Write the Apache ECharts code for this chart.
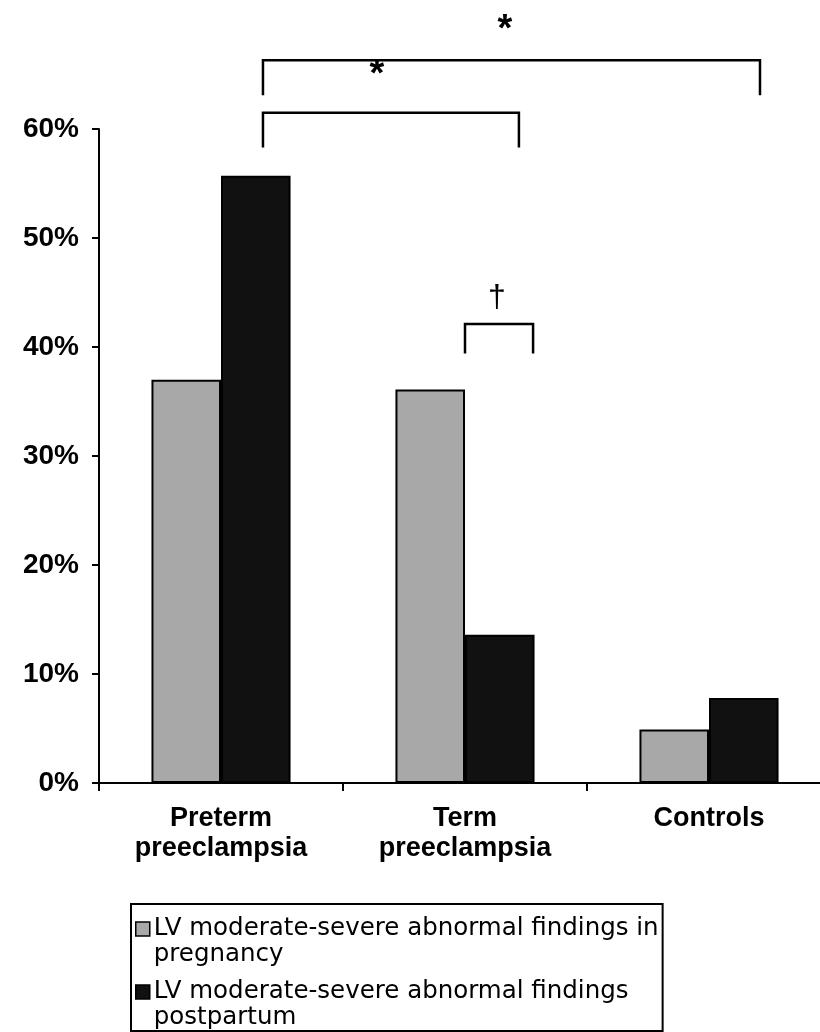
<!DOCTYPE html>
<html>
<head>
<meta charset="utf-8">
<script src="https://cdn.jsdelivr.net/npm/echarts@6/dist/echarts.min.js"></script>
<style>
html,body{margin:0;padding:0;background:#fff;overflow:hidden;width:820px;height:1032px;}
#chart{width:840px;height:1032px;}
</style>
</head>
<body>
<div id="chart"></div>
<script>
// ---- data ----
var categories = ['Preterm\npreeclampsia', 'Term\npreeclampsia', 'Controls'];
var seriesNames = ['LV moderate-severe abnormal findings in\npregnancy', 'LV moderate-severe abnormal findings\npostpartum'];
var pregnancyValues = [37.0, 36.1, 4.9];
var postpartumValues = [55.7, 13.6, 7.8];
var yTicks = [0, 10, 20, 30, 40, 50, 60];

var BOLDFONT = '"Liberation Sans", Arial, sans-serif';
var LEGFONT = '"DejaVu Sans", Verdana, sans-serif';
var chart = echarts.init(document.getElementById('chart'), null, {renderer: 'canvas'});

var barBorder = {borderColor: '#000', borderWidth: 2};

var option = {
  animation: false,
  backgroundColor: '#fff',
  grid: {left: 99, top: 129, right: 9, height: 654, containLabel: false},
  xAxis: {
    type: 'category',
    data: categories,
    axisLine: {lineStyle: {color: '#000', width: 2}},
    axisTick: {show: true, length: 8, lineStyle: {color: '#000', width: 2}, alignWithLabel: false},
    axisLabel: {color: '#000', fontFamily: BOLDFONT, fontWeight: 'bold', fontSize: 27, lineHeight: 30, margin: 21, interval: 0}
  },
  yAxis: {
    type: 'value',
    min: yTicks[0], max: yTicks[yTicks.length - 1], interval: 10,
    axisLine: {show: true, lineStyle: {color: '#000', width: 2}},
    axisTick: {show: true, length: 7, lineStyle: {color: '#000', width: 2}},
    splitLine: {show: false},
    axisLabel: {color: '#000', fontFamily: BOLDFONT, fontWeight: 'bold', fontSize: 28, margin: 20, formatter: '{value}%'}
  },
  legend: {
    orient: 'vertical',
    left: 131, top: 904,
    padding: [12, 4, 0, 4],
    borderColor: '#000', borderWidth: 2,
    itemWidth: 14, itemHeight: 40, itemGap: 11,
    icon: 'path://M0,0L14,0L14,14L0,14ZM0,40L0,40',
    itemStyle: {borderColor: '#000', borderWidth: 1.5},
    textStyle: {color: '#000', fontFamily: LEGFONT, fontSize: 24.5, lineHeight: 26, padding: [0, 0, 0, -1]},
    data: seriesNames,
    selectedMode: false
  },
  series: [
    {name: seriesNames[0], type: 'bar', data: pregnancyValues, barGap: '0%', barCategoryGap: '43%',
     itemStyle: Object.assign({color: '#a8a8a8'}, barBorder)},
    {name: seriesNames[1], type: 'bar', data: postpartumValues, barGap: '0%', barCategoryGap: '43%',
     itemStyle: Object.assign({color: '#111111'}, barBorder)}
  ]
};
chart.setOption(option);

// ---- significance annotations (in category units / percent values) ----
var brackets = [
  {x1: 0.172, x2: 2.209, top: 66.3, bottom: 63.1, mark: '*', mx: 1.164, my: 69.8},
  {x1: 0.172, x2: 1.221, top: 61.5, bottom: 58.3, mark: '*', mx: 0.639, my: 65.6},
  {x1: 1.0, x2: 1.279, top: 42.1, bottom: 39.4, mark: '\u2020', mx: 1.131, my: 44.5}
];
var c0 = chart.convertToPixel({xAxisIndex: 0}, 0);
var c1 = chart.convertToPixel({xAxisIndex: 0}, 1);
var band = c1 - c0;
function px(u) { return c0 + u * band; }
function py(v) { return chart.convertToPixel({yAxisIndex: 0}, v); }
var g = [];
brackets.forEach(function (b) {
  g.push({type: 'polyline', shape: {points: [[px(b.x1), py(b.bottom)], [px(b.x1), py(b.top)], [px(b.x2), py(b.top)], [px(b.x2), py(b.bottom)]]},
          style: {stroke: '#000', lineWidth: 2.5, fill: null}});
  var isStar = b.mark === '*';
  g.push({type: 'text', x: px(b.mx), y: py(b.my) + (isStar ? 8 : 0),
          style: {text: b.mark, fill: '#000', font: (isStar ? 'bold 38px ' : '32px ') + BOLDFONT, align: 'center', verticalAlign: 'middle'}});
});
chart.setOption({graphic: g});
</script>
</body>
</html>
